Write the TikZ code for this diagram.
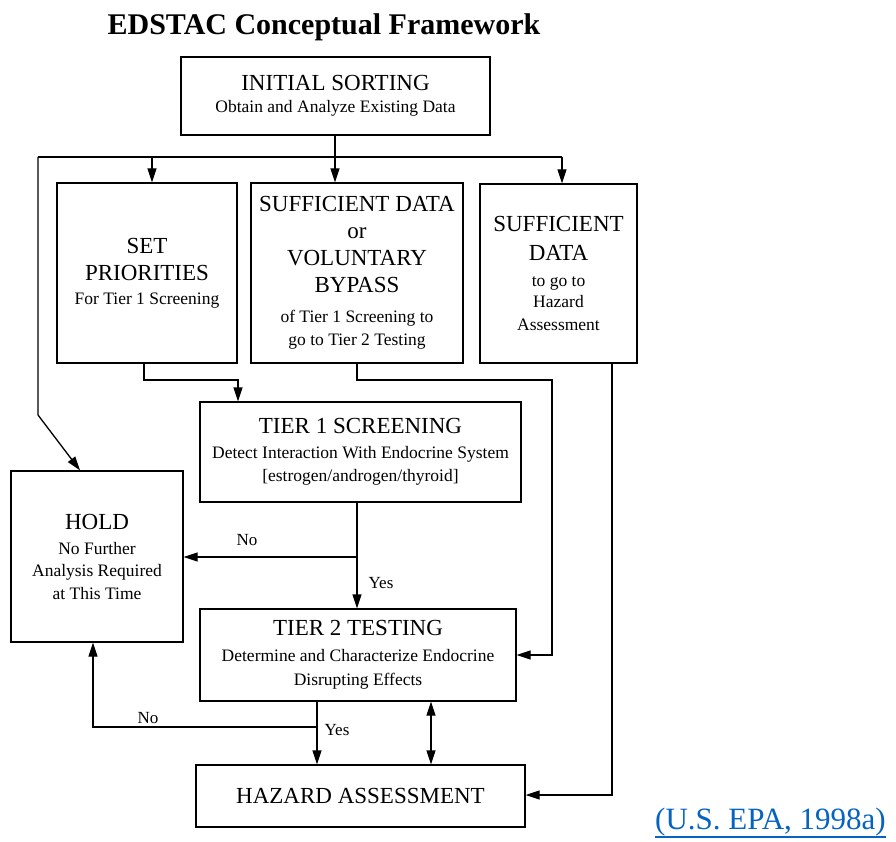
\documentclass[tikz,border=0pt]{standalone}
\usepackage{fontspec}
\setmainfont{Liberation Serif}
\usetikzlibrary{arrows.meta}
\definecolor{linkblue}{RGB}{5,99,193}
\newcommand{\bigtxt}{\fontsize{23}{27}\selectfont}
\newcommand{\smalltxt}{\fontsize{17.5}{22}\selectfont}

\begin{document}
\begin{tikzpicture}[x=1pt,y=-1pt,
    box/.style={draw,line width=1.3pt,rectangle,align=center,inner sep=2pt,font=\bigtxt},
    ln/.style={line width=1.3pt},
    arr/.style={line width=1.3pt,-{Triangle[length=14pt,width=9pt]}},
    dblarr/.style={line width=1.3pt,{Triangle[length=14pt,width=9pt]}-{Triangle[length=14pt,width=9pt]}},
    lbl/.style={font=\fontsize{17}{20}\selectfont}]
    \useasboundingbox (0,0) rectangle (896,842);

    \node[font=\bfseries\fontsize{30}{36}\selectfont,anchor=base] (title) at (324,35) {EDSTAC Conceptual Framework};

    % boxes
    \node[box,minimum width=309pt,minimum height=78pt] (init) at (335.5,96)
        {INITIAL SORTING\\[-5pt]{\smalltxt Obtain and Analyze Existing Data}};
    \node[box,minimum width=180pt,minimum height=180pt] (setp) at (147,273)
        {SET\\PRIORITIES\\[-3pt]{\smalltxt For Tier 1 Screening}};
    \node[box,minimum width=212pt,minimum height=180pt] (suff) at (357,273)
        {SUFFICIENT DATA\\or\\VOLUNTARY\\BYPASS\\[3pt]{\smalltxt of Tier 1 Screening to}\\[-4pt]{\smalltxt go to Tier 2 Testing}};
    \node[box,minimum width=157pt,minimum height=179pt] (suffh) at (558.5,273.5)
        {SUFFICIENT\\[2pt]DATA\\[-1pt]{\smalltxt to go to}\\[-6pt]{\smalltxt Hazard}\\[-4pt]{\smalltxt Assessment}};
    \node[box,minimum width=321pt,minimum height=100pt] (tier1) at (360.5,452)
        {TIER 1 SCREENING\\[-2pt]{\smalltxt Detect Interaction With Endocrine System}\\[-4pt]{\smalltxt [estrogen/androgen/thyroid]}};
    \node[box,minimum width=172pt,minimum height=171pt] (hold) at (97,556.5)
        {HOLD\\[-2pt]{\smalltxt No Further}\\[-5pt]{\smalltxt Analysis Required}\\[-4pt]{\smalltxt at This Time}};
    \node[box,minimum width=316pt,minimum height=92pt] (tier2) at (358,655)
        {TIER 2 TESTING\\[-1pt]{\smalltxt Determine and Characterize Endocrine}\\[-3pt]{\smalltxt Disrupting Effects}};
    \node[box,minimum width=329pt,minimum height=62pt] (hazard) at (360.5,796)
        {HAZARD ASSESSMENT};

    % bend points
    \coordinate (bar) at (335,157);
    \coordinate (barL) at (38,157);
    \coordinate (barR) at (562,157);
    \coordinate (barSP) at (152,157);
    \coordinate (kneeL) at (38,415);
    \coordinate (spdown) at (144,380);
    \coordinate (t1in) at (238,380);
    \coordinate (sddown) at (357,380);
    \coordinate (sdright) at (552,380);
    \coordinate (shdown) at (612,795);
    \coordinate (t1split) at (357,557);
    \coordinate (t2split) at (317,727);
    \coordinate (t2left) at (93,727);
    \coordinate (dbl) at (431,700);

    % connectors
    \draw[arr] (init.south -| bar) -- (bar |- suff.north);
    \draw[ln] (barL) -- (barR);
    \draw[arr] (barSP) -- (barSP |- setp.north);
    \draw[arr] (barR) -- (barR |- suffh.north);
    \draw[arr] (barL) -- (kneeL) -- ([xshift=-17pt]hold.north);

    \draw[arr] (setp.south -| spdown) -- (spdown) -- (t1in) -- (t1in |- tier1.north);
    \draw[arr] (suff.south) -- (sddown) -- (sdright) -- (sdright |- tier2.east) -- (tier2.east);
    \draw[arr] (suffh.south -| shdown) -- (shdown) -- (shdown -| hazard.east);

    \draw[arr] (tier1.south -| t1split) -- (t1split |- tier2.north);
    \draw[arr] (t1split) -- (t1split -| hold.east);
    \node[lbl] (no1) at (247,540) {No};
    \node[lbl] (yes1) at (381,583) {Yes};

    \draw[arr] (tier2.south -| t2split) -- (t2split |- hazard.north);
    \draw[arr] (t2split) -- (t2left) -- (t2left |- hold.south);
    \node[lbl] (no2) at (148,718) {No};
    \node[lbl] (yes2) at (337,730) {Yes};

    \draw[dblarr] (tier2.south -| dbl) -- (hazard.north -| dbl);

    % source
    \node[anchor=base west,inner sep=0pt,text=linkblue,font=\fontsize{31}{36}\selectfont] (cite) at (655,829) {(U.S. EPA, 1998a)};
    \draw[linkblue,line width=1.2pt] ([yshift=-8pt]cite.base west) -- ([yshift=-8pt]cite.base east);
\end{tikzpicture}
\end{document}
